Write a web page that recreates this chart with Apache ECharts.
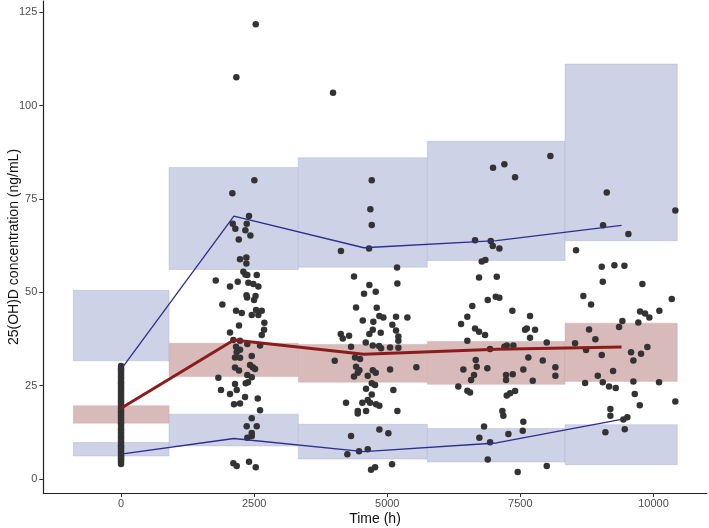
<!DOCTYPE html>
<html>
<head>
<meta charset="utf-8">
<script src="https://cdn.jsdelivr.net/npm/echarts@6/dist/echarts.min.js"></script>
<style>
  html, body { margin: 0; padding: 0; background: #fff; }
  #main { width: 709px; height: 528px; }
</style>
</head>
<body>
<div id="main"></div>
<script>
// bin edges (h) and prediction-interval boxes
const binEdges = [-896, 902, 3330, 5753, 8340, 10447];
const upperLo = [31.6, 56.1, 56.7, 58.5, 63.8];
const upperHi = [50.5, 83.4, 86.0, 90.4, 111.1];
const medLo = [14.9, 27.4, 25.9, 25.3, 26.1];
const medHi = [19.6, 36.3, 36.0, 36.8, 41.7];
const lowerLo = [6.1, 8.8, 5.3, 4.5, 3.8];
const lowerHi = [9.7, 17.3, 14.6, 13.5, 14.5];

// observed percentile lines
const lineTime = [0, 2120, 4560, 7050, 9400];
const obsUpper = [29.3, 70.4, 61.9, 63.8, 67.9];
const obsMedian = [18.9, 37.2, 33.4, 34.7, 35.3];
const obsLower = [6.6, 10.8, 7.3, 9.6, 15.9];

// observations
const obsTime0 = [4.0, 4.6, 5.1, 5.5, 6.0, 6.4, 7.0, 7.5, 8.1, 8.6, 9.0, 9.7, 10.2, 10.8, 11.3, 11.9,
  12.4, 13.0, 13.5, 14.2, 14.8, 15.3, 15.9, 16.4, 17.0, 17.6, 18.1, 18.8, 19.3, 19.9, 20.5, 21.0,
  21.6, 22.2, 22.7, 23.3, 23.9, 24.4, 25.0, 25.6, 26.1, 26.8, 27.3, 27.9, 28.5, 29.1, 29.6, 30.2];
const obsBin2 = [[2530,121.8],[2166,107.6],[2504,80.0],[2091,76.5],[2404,70.4],[2098,68.3],[2147,67.0],
  [2361,68.3],[2335,66.6],[2429,65.2],[2211,64.1],[2235,58.8],[2354,59.3],[2354,57.7],[2297,55.5],
  [2335,54.7],[2372,54.6],[2549,54.6],[1779,53.1],[2047,51.5],[2192,52.8],[2391,52.5],[2485,52.2],
  [2579,51.5],[2357,49.2],[2367,48.6],[2526,49.0],[2498,47.9],[1903,46.7],[2160,45.0],[2267,44.4],
  [2455,43.9],[2536,45.2],[2643,45.0],[2579,43.9],[2692,41.8],[2216,41.1],[2686,39.9],[2643,38.5],
  [2047,39.2],[2109,37.2],[2235,37.0],[2372,36.1],[2611,35.7],[2160,35.4],[2235,34.6],[2172,34.0],
  [2455,32.9],[2141,32.5],[2235,32.4],[2423,30.5],[2474,29.9],[2517,29.4],[2141,29.8],[2216,29.0],
  [2372,27.8],[2455,27.2],[1828,27.1],[1878,23.8],[2047,22.7],[2173,23.8],[2141,25.4],[2342,25.6],
  [2385,25.9],[2329,21.9],[2568,21.5],[2611,18.4],[2122,20.0],[2235,20.2],[2455,16.2],[2361,14.1],
  [2549,14.1],[2455,11.5],[2372,11.0],[2455,12.3],[2109,4.2],[2173,3.4],[2404,4.6],[2530,3.1]];
const obsBin3 = [[3982,103.4],[4130,61.0],[4709,80.0],[4683,72.2],[4709,68.0],[4658,61.7],[4376,54.2],
  [4664,51.9],[4564,49.6],[4784,50.1],[5184,56.6],[5190,52.3],[4414,45.9],[4803,45.8],[4540,42.4],
  [4739,42.1],[4852,43.6],[4927,43.2],[5165,43.4],[5378,43.2],[5096,41.3],[4728,39.9],[4664,38.8],
  [4878,39.1],[4127,38.8],[4164,37.6],[4283,38.3],[5165,39.7],[5209,38.1],[5209,37.0],[4596,36.5],
  [4728,35.7],[4846,35.6],[4884,35.0],[5053,35.2],[5209,35.1],[4320,35.4],[4014,31.6],[4395,32.5],
  [4489,32.1],[4728,29.1],[4784,28.4],[5053,29.3],[5547,29.9],[4476,29.1],[4446,28.4],[4376,27.4],
  [4634,27.6],[4602,24.1],[4709,25.6],[4771,25.1],[5115,23.8],[4709,22.6],[4226,20.4],[4532,20.4],
  [4634,21.1],[4677,20.4],[4790,20.0],[4852,19.6],[4446,18.2],[4446,17.5],[4602,18.2],[5190,18.2],
  [4852,13.2],[5021,12.2],[4320,11.5],[4251,6.6],[4470,7.4],[4634,7.9],[4696,2.4],[4771,3.1],
  [5090,3.9],[4414,30.0]];
const obsBin4 = [[6987,83.3],[7200,84.3],[7401,80.8],[8064,86.5],[6649,63.9],[6944,63.7],[6982,62.4],
  [7106,61.7],[6775,58.2],[6843,58.6],[6724,53.9],[7057,54.1],[7038,48.8],[7106,48.5],[6888,47.9],
  [6386,41.5],[6504,43.4],[6598,46.3],[6649,40.3],[6724,39.4],[6837,38.5],[7350,45.0],[7620,40.3],
  [7588,39.9],[6504,37.0],[6931,34.8],[7200,35.4],[7245,35.7],[7369,35.7],[7650,32.5],[6662,31.8],
  [6681,30.0],[6430,29.3],[6880,29.6],[6630,27.8],[6574,26.5],[7231,27.8],[7357,28.0],[7556,29.3],
  [7231,26.5],[6335,24.7],[6504,23.6],[6555,23.1],[7245,22.3],[7307,22.9],[7401,23.5],[7162,18.2],
  [7181,16.9],[6818,14.0],[6730,11.0],[6931,9.8],[7275,12.0],[7556,15.3],[7545,12.9],[6888,5.2],
  [7450,1.8],[7682,43.6],[7776,39.9],[7682,37.8],[7996,36.5],[7921,31.7],[7733,26.3],[8158,29.9],
  [8158,27.6],[7996,3.4]];
const obsBin5 = [[8546,61.2],[9123,76.7],[10411,71.9],[9053,67.9],[9529,65.6],[9029,56.8],[9266,57.2],
  [9454,57.1],[9048,52.8],[9792,52.2],[10344,48.2],[8683,49.0],[8828,46.7],[9748,44.8],[9842,44.3],
  [9923,43.2],[10111,45.0],[9416,42.3],[9716,41.9],[9354,40.7],[8790,40.0],[8527,36.3],[8909,37.4],
  [8734,34.5],[9029,33.2],[9579,33.9],[9767,33.5],[9886,35.3],[9623,31.7],[9241,28.9],[8954,27.6],
  [8716,25.7],[9048,25.9],[9166,24.7],[9292,24.3],[9623,26.1],[10105,25.9],[9649,22.7],[9743,19.7],
  [10411,20.7],[9191,18.7],[9191,16.9],[9435,15.9],[9510,16.5],[9097,12.5],[9461,13.3]];

const xTicks = [0, 2500, 5000, 7500, 10000];
const yTicks = [0, 25, 50, 75, 100, 125];

const blueFill = '#CDD2E6';
const redFill = '#D9BABA';
const fontFamily = 'Liberation Sans, Arial, sans-serif';

const rectSeries = (lo, hi, fill, stroke) => ({
  type: 'custom',
  silent: true,
  z: 1,
  encode: { x: [0, 1], y: [2, 3] },
  data: lo.map((v, i) => [binEdges[i], binEdges[i + 1], v, hi[i]]),
  renderItem: (params, api) => {
    const p0 = api.coord([api.value(0), api.value(3)]);
    const p1 = api.coord([api.value(1), api.value(2)]);
    return {
      type: 'rect',
      shape: { x: p0[0], y: p0[1], width: p1[0] - p0[0], height: p1[1] - p0[1] },
      style: { fill: fill, stroke: stroke, lineWidth: 0.6 }
    };
  }
});

const dotStyle = {
  type: 'scatter',
  symbolSize: 6.5,
  itemStyle: { color: '#333333', opacity: 1 },
  silent: true,
  z: 3
};

const pairLine = (vals) => lineTime.map((t, i) => [t, vals[i]]);

const chart = echarts.init(document.getElementById('main'));
chart.setOption({
  animation: false,
  backgroundColor: '#fff',
  grid: { left: 43.3, right: 2.3, top: 1, bottom: 35, outerBoundsMode: 'none', containLabel: false },
  xAxis: {
    type: 'value',
    min: -1460,
    max: 11000,
    name: 'Time (h)',
    nameLocation: 'middle',
    nameGap: 19,
    nameMoveOverlap: false,
    nameTextStyle: { fontFamily, fontSize: 14, color: '#111' },
    splitLine: { show: false },
    axisLine: { show: true, onZero: false, lineStyle: { color: '#222', width: 1.2 } },
    axisTick: { show: true, customValues: xTicks, length: 4, lineStyle: { color: '#333' } },
    axisLabel: { customValues: xTicks, margin: 5, fontFamily, fontSize: 11, color: '#4d4d4d',
      formatter: v => String(v) }
  },
  yAxis: {
    type: 'value',
    min: -3.8,
    max: 128,
    name: '25(OH)D concentration (ng/mL)',
    nameLocation: 'middle',
    nameGap: 22,
    nameMoveOverlap: false,
    nameTextStyle: { fontFamily, fontSize: 14, color: '#111' },
    splitLine: { show: false },
    axisLine: { show: true, onZero: false, lineStyle: { color: '#222', width: 1.2 } },
    axisTick: { show: true, customValues: yTicks, length: 4, lineStyle: { color: '#333' } },
    axisLabel: { customValues: yTicks, margin: 6, fontFamily, fontSize: 11, color: '#4d4d4d',
      formatter: v => String(v) }
  },
  series: [
    rectSeries(upperLo, upperHi, blueFill, 'rgba(160,168,205,0.6)'),
    rectSeries(medLo, medHi, redFill, 'rgba(200,160,160,0.6)'),
    rectSeries(lowerLo, lowerHi, blueFill, 'rgba(160,168,205,0.6)'),
    Object.assign({}, dotStyle, { data: obsTime0.map(v => [0, v]) }),
    Object.assign({}, dotStyle, { data: obsBin2 }),
    Object.assign({}, dotStyle, { data: obsBin3 }),
    Object.assign({}, dotStyle, { data: obsBin4 }),
    Object.assign({}, dotStyle, { data: obsBin5 }),
    { type: 'line', data: pairLine(obsUpper), symbol: 'none', silent: true, z: 4,
      lineStyle: { color: '#2E2E8C', width: 1.3 } },
    { type: 'line', data: pairLine(obsLower), symbol: 'none', silent: true, z: 4,
      lineStyle: { color: '#2E2E8C', width: 1.3 } },
    { type: 'line', data: pairLine(obsMedian), symbol: 'none', silent: true, z: 5,
      lineStyle: { color: '#8B1C1C', width: 3 } }
  ]
});
</script>
</body>
</html>
